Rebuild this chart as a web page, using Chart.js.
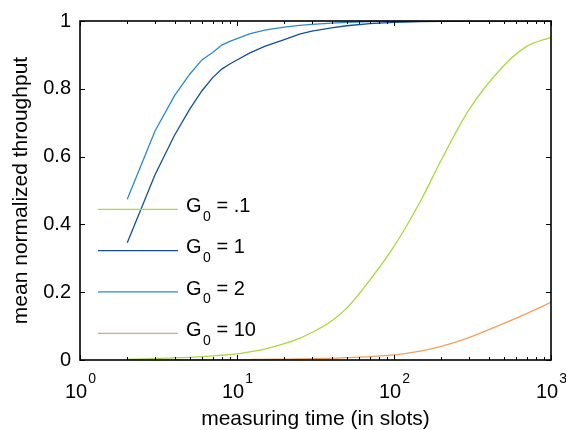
<!DOCTYPE html>
<html><head><meta charset="utf-8">
<script src="https://cdn.jsdelivr.net/npm/chart.js@4"></script>
<style>html,body{margin:0;padding:0;background:#fff;}canvas{display:block;}</style>
</head><body>
<canvas id="c" width="566" height="430"></canvas>
<script>
// ---- data ----
const slots = [2,3,4,5,6,7,8,9,10,12,15,20,25,30,40,50,70,100,150,200,300,500,700,1000];
const thrG01 = [0.002,0.004,0.006,0.008,0.010,0.012,0.014,0.016,0.018,0.024,0.032,0.048,0.064,0.081,0.115,0.153,0.235,0.335,0.475,0.590,0.738,0.868,0.925,0.952];
const thrG1  = [0.346,0.546,0.663,0.740,0.795,0.833,0.858,0.873,0.885,0.905,0.925,0.945,0.961,0.970,0.980,0.986,0.992,0.996,0.998,0.999,1,1,1,1];
const thrG2  = [0.474,0.675,0.780,0.843,0.886,0.907,0.929,0.940,0.948,0.962,0.973,0.982,0.987,0.990,0.994,0.996,0.998,0.999,1,1,1,1,1,1];
const thrG10 = [0,0.0002,0.0003,0.0004,0.0005,0.0006,0.0007,0.0008,0.001,0.0013,0.0017,0.0025,0.003,0.004,0.005,0.007,0.010,0.015,0.027,0.040,0.066,0.108,0.137,0.170];
const g0Values = ['.1','1','2','10'];
const xTickExponents = [0,1,2,3];
const yTickValues = [0,0.2,0.4,0.6,0.8,1];
const xTitle = 'measuring time (in slots)';
const yTitle = 'mean normalized throughput';

const FONT = '"Liberation Sans", Arial, Helvetica, sans-serif';
const colors = ['#a9d93c','#124f9c','#2a8ad0','#f2a060'];
const smooth = [true, false, false, true];
const seriesValues = [thrG01, thrG1, thrG2, thrG10];

const datasets = seriesValues.map((vals, i) => ({
  label: 'G0 = ' + g0Values[i],
  data: slots.map((x, j) => ({x: x, y: vals[j]})),
  borderColor: colors[i],
  backgroundColor: colors[i],
  borderWidth: 1.3,
  pointRadius: 0,
  cubicInterpolationMode: smooth[i] ? 'monotone' : 'default',
  tension: 0,
  fill: false
}));

const decor = {
  id: 'decor',
  afterDraw(chart) {
    const ctx = chart.ctx;
    const a = chart.chartArea;
    const xs = chart.scales.x, ys = chart.scales.y;
    ctx.save();
    ctx.strokeStyle = '#000';
    ctx.lineWidth = 1.6;
    ctx.strokeRect(a.left, a.top, a.right - a.left, a.bottom - a.top);
    ctx.lineWidth = 1;
    ctx.beginPath();
    yTickValues.forEach(v => {
      const y = Math.round(ys.getPixelForValue(v)) + 0.5;
      ctx.moveTo(a.left, y); ctx.lineTo(a.left + 5, y);
      ctx.moveTo(a.right, y); ctx.lineTo(a.right - 5, y);
    });
    xTickExponents.forEach(e => {
      const base = Math.pow(10, e);
      const mults = e < 3 ? [1,2,3,4,5,6,7,8,9] : [1];
      mults.forEach(m => {
        const x = Math.round(xs.getPixelForValue(m * base)) + 0.5;
        const len = m === 1 ? 5 : 3;
        ctx.moveTo(x, a.bottom); ctx.lineTo(x, a.bottom - len);
        ctx.moveTo(x, a.top); ctx.lineTo(x, a.top + len);
      });
    });
    ctx.stroke();

    ctx.fillStyle = '#000';
    ctx.textBaseline = 'alphabetic';
    xTickExponents.forEach(e => {
      const x = xs.getPixelForValue(Math.pow(10, e));
      ctx.font = '20px ' + FONT;
      const wb = ctx.measureText('10').width;
      ctx.font = '14px ' + FONT;
      const ws = ctx.measureText(String(e)).width;
      const start = x - (wb + ws) / 2;
      ctx.font = '20px ' + FONT;
      ctx.textAlign = 'left';
      ctx.fillText('10', start, a.bottom + 38);
      ctx.font = '14px ' + FONT;
      ctx.fillText(String(e), start + wb + 1, a.bottom + 23);
    });
    ctx.font = '21px ' + FONT;
    ctx.textAlign = 'center';
    ctx.fillText(xTitle, (a.left + a.right) / 2, a.bottom + 65);
    ctx.save();
    ctx.translate(27, (a.top + a.bottom) / 2);
    ctx.rotate(-Math.PI / 2);
    ctx.fillText(yTitle, 0, 0);
    ctx.restore();

    const rowsY = [209.3, 250.7, 291.9, 333.3];
    chart.data.datasets.forEach((ds, i) => {
      const y = rowsY[i];
      ctx.strokeStyle = ds.borderColor;
      ctx.lineWidth = 1.3;
      ctx.beginPath();
      ctx.moveTo(98, y); ctx.lineTo(178, y);
      ctx.stroke();
      ctx.fillStyle = '#000';
      ctx.textAlign = 'left';
      let x = 186;
      ctx.font = '20px ' + FONT;
      ctx.fillText('G', x, y + 2.6);
      x += ctx.measureText('G').width + 1.5;
      ctx.font = '14px ' + FONT;
      ctx.fillText('0', x, y + 11.5);
      x += ctx.measureText('0').width;
      ctx.font = '20px ' + FONT;
      ctx.fillText(' = ' + g0Values[i], x, y + 2.6);
    });
    ctx.restore();
  }
};

new Chart(document.getElementById('c'), {
  type: 'line',
  data: { datasets },
  options: {
    responsive: false,
    animation: false,
    events: [],
    layout: { padding: { top: 18, right: 15, left: 0, bottom: 0 } },
    plugins: { legend: { display: false }, tooltip: { enabled: false } },
    scales: {
      x: {
        type: 'logarithmic', min: 1, max: 1000,
        grid: { display: false, drawTicks: false },
        border: { display: false },
        ticks: { display: false },
        afterFit(s) { s.height = 70; }
      },
      y: {
        type: 'linear', min: 0, max: 1,
        grid: { display: false, drawTicks: false },
        border: { display: false },
        ticks: {
          stepSize: 0.2, padding: 9, color: '#000',
          font: { family: FONT, size: 20 },
          callback: (v) => String(Math.round(v * 10) / 10)
        },
        afterFit(s) { s.width = 80; }
      }
    }
  },
  plugins: [decor]
});
</script>
</body></html>
